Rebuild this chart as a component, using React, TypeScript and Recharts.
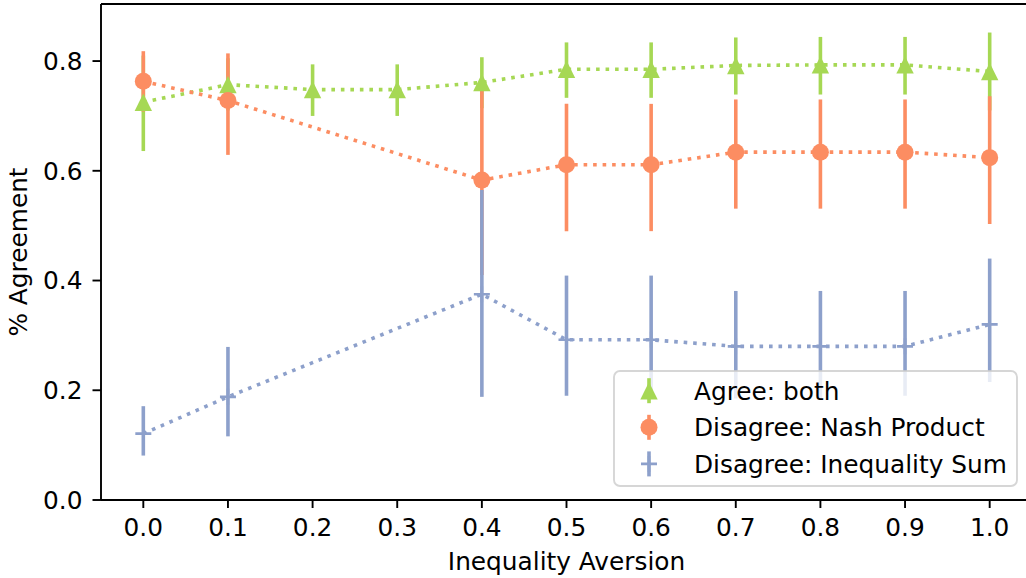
import type { ReactElement } from "react";
import {
  LineChart,
  Line,
  XAxis,
  YAxis,
  ErrorBar,
  ReferenceLine,
  Legend,
  Label,
} from "recharts";

const X_VALUES = [0, 0.1, 0.2, 0.3, 0.4, 0.5, 0.6, 0.7, 0.8, 0.9, 1.0];

// Agree: both
const AGREE_MEAN = [0.725, 0.757, 0.748, 0.748, 0.761, 0.785, 0.785, 0.792, 0.793, 0.793, 0.781];
const AGREE_LOW = [0.636, 0.71, 0.7, 0.7, 0.714, 0.733, 0.733, 0.739, 0.739, 0.739, 0.71];
const AGREE_HIGH = [0.81, 0.805, 0.794, 0.794, 0.807, 0.834, 0.834, 0.843, 0.844, 0.844, 0.852];

// Disagree: Nash Product (no runs at 0.2 / 0.3)
const NASH_MEAN = [0.763, 0.728, null, null, 0.583, 0.611, 0.611, 0.634, 0.634, 0.634, 0.624];
const NASH_LOW = [0.708, 0.629, null, null, 0.41, 0.49, 0.49, 0.531, 0.531, 0.531, 0.503];
const NASH_HIGH = [0.818, 0.814, null, null, 0.76, 0.722, 0.722, 0.73, 0.73, 0.73, 0.736];

// Disagree: Inequality Sum
const INEQ_MEAN = [0.121, 0.188, null, null, 0.375, 0.292, 0.292, 0.28, 0.28, 0.28, 0.32];
const INEQ_LOW = [0.081, 0.116, null, null, 0.188, 0.19, 0.19, 0.185, 0.185, 0.19, 0.215];
const INEQ_HIGH = [0.171, 0.279, null, null, 0.565, 0.409, 0.409, 0.381, 0.381, 0.381, 0.44];

const Y_TICKS = [0, 0.2, 0.4, 0.6, 0.8];
const Y_MAX = 0.904;
const X_MIN = -0.05;
const X_MAX = 1.05;

const FONT = "DejaVu Sans, sans-serif";
const FONT_SIZE = 24.8;
const LINE_W = 3.6;
const SPINE_W = 1.9;

type Shape = "triangle" | "circle" | "plus";

const SERIES: { key: string; label: string; color: string; shape: Shape }[] = [
  { key: "agree", label: "Agree: both", color: "#a6d854", shape: "triangle" },
  { key: "nash", label: "Disagree: Nash Product", color: "#fc8d62", shape: "circle" },
  { key: "ineq", label: "Disagree: Inequality Sum", color: "#8da0cb", shape: "plus" },
];

function span(mean: number | null, lo: number | null, hi: number | null) {
  if (mean == null || lo == null || hi == null) return null;
  return [mean - lo, hi - mean];
}

const tableData = X_VALUES.map((x, i) => ({
  x,
  agree: AGREE_MEAN[i],
  agreeErr: span(AGREE_MEAN[i], AGREE_LOW[i], AGREE_HIGH[i]),
  nash: NASH_MEAN[i],
  nashErr: span(NASH_MEAN[i], NASH_LOW[i], NASH_HIGH[i]),
  ineq: INEQ_MEAN[i],
  ineqErr: span(INEQ_MEAN[i], INEQ_LOW[i], INEQ_HIGH[i]),
}));

function Marker({ shape, cx, cy, color }: { shape: Shape; cx: number; cy: number; color: string }) {
  if (shape === "triangle") {
    const s = 8.7;
    return <path d={`M${cx},${cy - s}L${cx + s},${cy + s}L${cx - s},${cy + s}Z`} fill={color} />;
  }
  if (shape === "circle") {
    return <circle cx={cx} cy={cy} r={8.5} fill={color} />;
  }
  const s = 8;
  return (
    <path
      d={`M${cx - s},${cy}H${cx + s}M${cx},${cy - s}V${cy + s}`}
      stroke={color}
      strokeWidth={2.6}
      fill="none"
    />
  );
}

function makeDot(shape: Shape, color: string) {
  return (props: any): ReactElement => {
    const { cx, cy, index } = props;
    if (cx == null || cy == null || Number.isNaN(cy)) return <g key={`e-${index}`} />;
    return (
      <g key={`m-${index}`}>
        <Marker shape={shape} cx={cx} cy={cy} color={color} />
      </g>
    );
  };
}

function LegendBox() {
  const w = 405;
  const h = 117;
  return (
    <svg width={w} height={h} style={{ display: "block" }}>
      <rect
        x={1}
        y={1}
        width={w - 2}
        height={h - 2}
        rx={6}
        fill="rgba(255,255,255,0.8)"
        stroke="rgba(204,204,204,0.8)"
        strokeWidth={1.9}
      />
      {SERIES.map((s, i) => {
        const cy = 20.7 + 36.6 * i;
        return (
          <g key={s.key}>
            <line x1={36} x2={36} y1={cy - 12.5} y2={cy + 12.5} stroke={s.color} strokeWidth={LINE_W} />
            <Marker shape={s.shape} cx={36} cy={cy} color={s.color} />
            <text
              x={81}
              y={cy + 8.8}
              fontFamily={FONT}
              fontSize={FONT_SIZE}
              fill="#000"
            >
              {s.label}
            </text>
          </g>
        );
      })}
    </svg>
  );
}

const axisLine = { stroke: "#000", strokeWidth: SPINE_W };
const tickStyle = { fill: "#000", fontSize: FONT_SIZE, fontFamily: FONT };

export default function App() {
  return (
    <div
      style={{
        position: "fixed",
        left: 0,
        top: 0,
        width: 1026,
        height: 578,
        overflow: "hidden",
        background: "#fff",
      }}
    >
      <LineChart
        width={1034}
        height={578}
        data={tableData}
        margin={{ top: 4, right: 2, bottom: 0, left: 0 }}
      >
        <XAxis
          dataKey="x"
          type="number"
          domain={[X_MIN, X_MAX]}
          ticks={X_VALUES}
          allowDataOverflow
          tickFormatter={(v: number) => v.toFixed(1)}
          height={78}
          tickSize={8}
          tickMargin={10.4}
          axisLine={axisLine}
          tickLine={axisLine}
          tick={tickStyle}
        >
          <Label
            content={() => (
              <text
                x={566.5}
                y={569.5}
                textAnchor="middle"
                fontFamily={FONT}
                fontSize={FONT_SIZE}
                fill="#000"
              >
                Inequality Aversion
              </text>
            )}
          />
        </XAxis>
        <YAxis
          type="number"
          domain={[0, Y_MAX]}
          ticks={Y_TICKS}
          allowDataOverflow
          tickFormatter={(v: number) => v.toFixed(1)}
          width={101}
          tickSize={8.5}
          tickMargin={10}
          axisLine={axisLine}
          tickLine={axisLine}
          tick={tickStyle}
        >
          <Label
            content={() => (
              <text
                transform="translate(27,252) rotate(-90)"
                textAnchor="middle"
                fontFamily={FONT}
                fontSize={FONT_SIZE}
                fill="#000"
              >
                % Agreement
              </text>
            )}
          />
        </YAxis>
        <ReferenceLine y={Y_MAX} stroke="#000" strokeWidth={SPINE_W} />
        <ReferenceLine x={X_MAX} stroke="#000" strokeWidth={SPINE_W} />

        {/* error bars first so every marker sits above every bar */}
        {SERIES.map((s) => (
          <Line
            key={`${s.key}-err`}
            dataKey={s.key}
            stroke="none"
            dot={false}
            activeDot={false}
            legendType="none"
            connectNulls
            isAnimationActive={false}
          >
            <ErrorBar
              dataKey={`${s.key}Err`}
              direction="y"
              width={0}
              stroke={s.color}
              strokeWidth={LINE_W}
              isAnimationActive={false}
            />
          </Line>
        ))}

        {SERIES.map((s) => (
          <Line
            key={s.key}
            dataKey={s.key}
            name={s.label}
            type="linear"
            stroke={s.color}
            strokeWidth={LINE_W}
            strokeDasharray="3.6 5.9"
            strokeLinecap="butt"
            connectNulls
            dot={makeDot(s.shape, s.color)}
            activeDot={false}
            isAnimationActive={false}
          />
        ))}

        <Legend
          layout="vertical"
          align="center"
          verticalAlign="middle"
          content={() => <LegendBox />}
          wrapperStyle={{ left: 613, top: 370, width: 405, height: 117 }}
        />
      </LineChart>
    </div>
  );
}
